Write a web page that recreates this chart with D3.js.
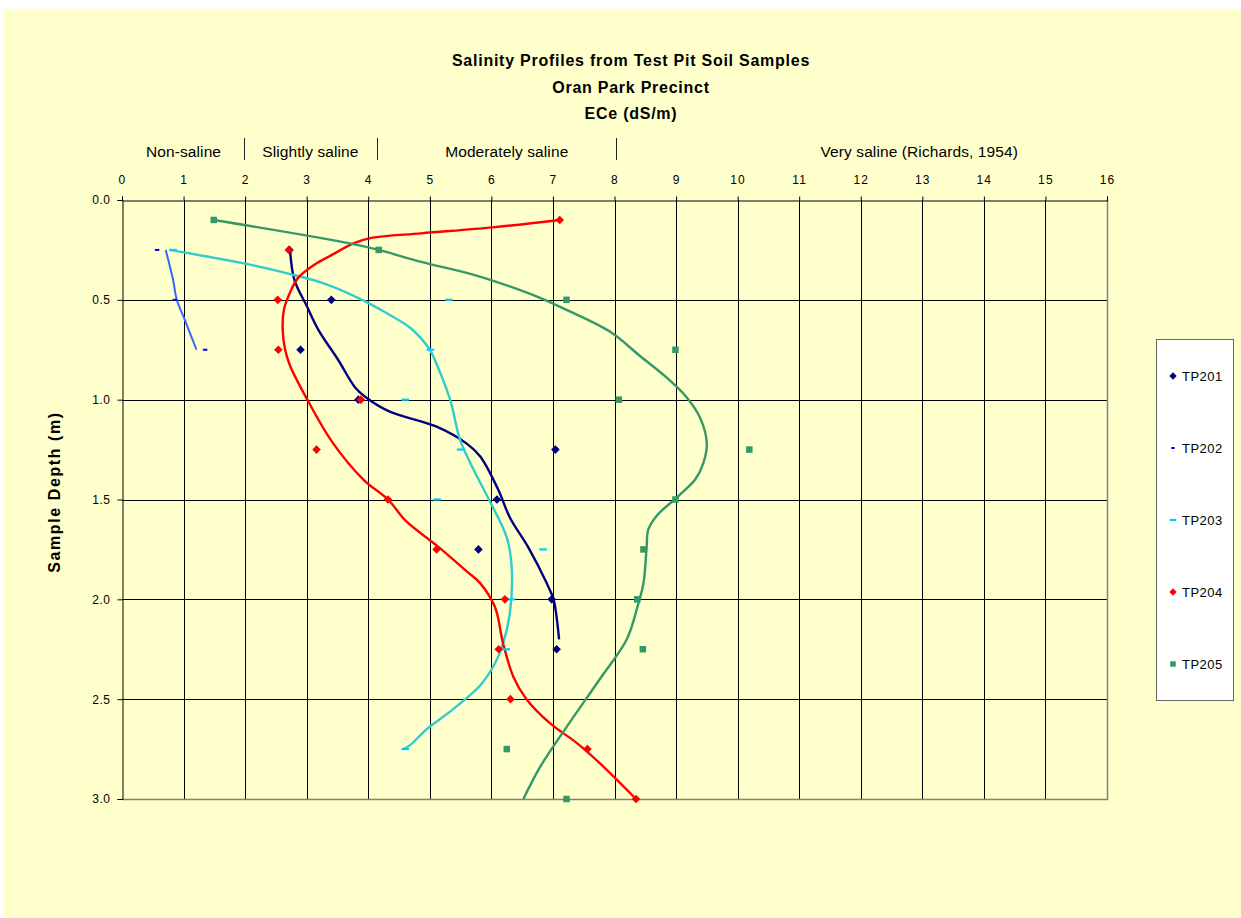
<!DOCTYPE html>
<html>
<head>
<meta charset="utf-8">
<script src="https://cdn.jsdelivr.net/npm/d3@7"></script>
<style>
  body { margin: 0; background: #ffffff; }
  svg { display: block; }
  text { font-family: Arial, "Liberation Sans", sans-serif; fill: #000; }
</style>
</head>
<body>
<div id="chart"></div>
<script>
// ---------- DATA ----------
const titleLines = ["Salinity Profiles from Test Pit Soil Samples", "Oran Park Precinct", "ECe (dS/m)"];
const yTitle = "Sample Depth (m)";
const xTicks = [0,1,2,3,4,5,6,7,8,9,10,11,12,13,14,15,16];
const yTicks = [0.0,0.5,1.0,1.5,2.0,2.5,3.0];
const salinityClasses = ["Non-saline", "Slightly saline", "Moderately saline", "Very saline (Richards, 1954)"];
const seriesNames = ["TP201", "TP202", "TP203", "TP204", "TP205"];

// measured points [ECe, depth]
const tp201Points = [[2.72,0.25],[3.40,0.5],[2.90,0.75],[3.84,1.0],[7.04,1.25],[6.09,1.5],[5.79,1.75],[6.98,2.0],[7.06,2.25]];
const tp202Points = [[0.57,0.25],[0.86,0.5],[1.35,0.75]];
const tp203Points = [[0.83,0.25],[5.31,0.5],[5.01,0.75],[4.60,1.0],[5.50,1.25],[5.12,1.5],[6.84,1.75],[6.33,2.0],[6.24,2.25],[4.60,2.75]];
const tp204Points = [[7.11,0.10],[2.71,0.25],[2.53,0.5],[2.54,0.75],[3.88,1.0],[3.16,1.25],[4.32,1.5],[5.11,1.75],[6.22,2.0],[6.12,2.25],[6.31,2.5],[7.56,2.75],[8.35,3.0]];
const tp205Points = [[1.49,0.10],[4.17,0.25],[7.22,0.5],[8.99,0.75],[8.07,1.0],[10.19,1.25],[8.99,1.5],[8.47,1.75],[8.37,2.0],[8.46,2.25],[6.25,2.75],[7.22,3.0]];

// fitted profile curves [ECe, depth]
const tp201Curve = [[2.73,0.25],[2.80,0.40],[3.00,0.53],[3.19,0.65],[3.51,0.80],[3.79,0.94],[3.97,0.99],[4.35,1.06],[5.11,1.135],[5.60,1.22],[5.82,1.285],[6.11,1.45],[6.30,1.59],[6.60,1.74],[6.90,1.92],[7.01,2.0],[7.06,2.09],[7.10,2.20]];
const tp202Curve = [[0.71,0.25],[0.83,0.40],[0.89,0.5],[1.02,0.60],[1.21,0.75]];
const tp203Curve = [[0.77,0.25],[2.02,0.32],[2.72,0.37],[3.30,0.42],[3.90,0.5],[4.26,0.56],[4.70,0.645],[5.00,0.75],[5.08,0.80],[5.33,1.0],[5.49,1.2],[5.71,1.35],[5.96,1.5],[6.25,1.69],[6.33,1.84],[6.30,2.07],[6.19,2.22],[6.06,2.32],[5.82,2.43],[5.38,2.55],[4.95,2.65],[4.68,2.73],[4.57,2.75]];
const tp204Curve = [[7.11,0.10],[6.02,0.137],[4.86,0.167],[4.05,0.19],[3.76,0.217],[3.41,0.275],[3.12,0.325],[2.86,0.39],[2.72,0.47],[2.63,0.55],[2.61,0.65],[2.65,0.75],[2.73,0.83],[3.01,1.0],[3.41,1.21],[3.92,1.40],[4.32,1.5],[4.62,1.61],[5.11,1.73],[5.60,1.86],[5.82,1.92],[6.06,2.04],[6.19,2.22],[6.36,2.39],[6.57,2.50],[6.95,2.62],[7.39,2.72],[7.76,2.82],[8.35,3.0]];
const tp205Curve = [[1.49,0.10],[3.70,0.217],[4.17,0.25],[4.86,0.31],[5.73,0.376],[6.31,0.434],[6.79,0.49],[7.22,0.55],[7.93,0.66],[8.41,0.78],[8.85,0.89],[9.15,0.98],[9.39,1.09],[9.50,1.22],[9.44,1.32],[9.31,1.40],[9.01,1.49],[8.69,1.58],[8.55,1.65],[8.52,1.75],[8.47,1.92],[8.37,2.04],[8.20,2.20],[7.76,2.40],[7.22,2.64],[6.79,2.84],[6.52,3.0]];

// ---------- LAYOUT ----------
const W = 1241, H = 918;
const plot = {left: 122, right: 1107, top: 200, bottom: 799};
const classSeparators = [1.98, 4.14, 8.02];      // positions of "|" marks, ECe units
const classLabelCenters = [1.0, 3.06, 6.25, 12.95];

const series = [
  {name: seriesNames[0], pts: tp201Points, curve: tp201Curve, line: "#000080", mark: "#000080", shape: "diamond"},
  {name: seriesNames[1], pts: tp202Points, curve: tp202Curve, line: "#3366FF", mark: "#0000FF", shape: "dashS"},
  {name: seriesNames[2], pts: tp203Points, curve: tp203Curve, line: "#33CCCC", mark: "#00CCFF", shape: "dashL"},
  {name: seriesNames[3], pts: tp204Points, curve: tp204Curve, line: "#FF0000", mark: "#FF0000", shape: "diamond"},
  {name: seriesNames[4], pts: tp205Points, curve: tp205Curve, line: "#339966", mark: "#339966", shape: "square"}
];

const svg = d3.select("#chart").append("svg").attr("width", W).attr("height", H);

svg.append("rect").attr("x", 4).attr("y", 9).attr("width", W - 4).attr("height", H - 9).attr("fill", "#FFFFCC");

const x = d3.scaleLinear().domain([0, 16]).range([plot.left, plot.right]);
const y = d3.scaleLinear().domain([0, 3]).range([plot.top, plot.bottom]);

// title
svg.append("g").selectAll("text").data(titleLines).join("text")
  .attr("x", 631).attr("y", (d, i) => 66 + i * 26.5)
  .attr("text-anchor", "middle")
  .style("font-size", "16px").style("font-weight", "bold").style("letter-spacing", "0.75px")
  .text(d => d);

// salinity class labels
svg.append("g").selectAll("text").data(salinityClasses).join("text")
  .attr("x", (d, i) => x(classLabelCenters[i])).attr("y", 157)
  .attr("text-anchor", "middle")
  .style("font-size", "15.5px").style("letter-spacing", "0.1px")
  .text(d => d);
svg.append("g").selectAll("line").data(classSeparators).join("line")
  .attr("x1", d => Math.round(x(d)) + 0.5).attr("x2", d => Math.round(x(d)) + 0.5)
  .attr("y1", 138).attr("y2", 160)
  .attr("stroke", "#222").attr("stroke-width", 1);

// grid
const grid = svg.append("g");
grid.selectAll("line.v").data(xTicks.filter(d => d > 0 && d < 16)).join("line")
  .attr("class", "v")
  .attr("x1", d => Math.round(x(d)) + 0.5).attr("x2", d => Math.round(x(d)) + 0.5)
  .attr("y1", plot.top).attr("y2", plot.bottom)
  .attr("stroke", "#000").attr("stroke-width", 1);
grid.selectAll("line.h").data(yTicks.filter(d => d > 0 && d < 3)).join("line")
  .attr("class", "h")
  .attr("x1", plot.left).attr("x2", plot.right)
  .attr("y1", d => Math.round(y(d)) + 0.5).attr("y2", d => Math.round(y(d)) + 0.5)
  .attr("stroke", "#000").attr("stroke-width", 1);

// plot border (right & bottom grey)
svg.append("path")
  .attr("d", `M${plot.left},${plot.bottom + 0.5}H${plot.right + 0.5}V${plot.top}`)
  .attr("fill", "none").attr("stroke", "#808080").attr("stroke-width", 1.5);

// axes
const xAxis = d3.axisTop(x).tickValues(xTicks).tickFormat(d3.format("d")).tickSize(4).tickPadding(13);
const gx = svg.append("g").attr("transform", `translate(0,${plot.top + 0.5})`).call(xAxis);
gx.select(".domain").attr("stroke", "#000");
gx.selectAll(".tick line").attr("stroke", "#000");
gx.selectAll("text").style("font-size", "12px").style("letter-spacing", "1.2px")
  .attr("font-family", null).attr("fill", "#000");

const yAxis = d3.axisLeft(y).tickValues(yTicks).tickFormat(d3.format(".1f")).tickSize(5).tickPadding(7);
const gy = svg.append("g").attr("transform", `translate(${plot.left + 0.5},0)`).call(yAxis);
gy.select(".domain").attr("stroke", "#000");
gy.selectAll(".tick line").attr("stroke", "#000");
gy.selectAll("text").style("font-size", "12px").style("letter-spacing", "0.5px")
  .attr("font-family", null).attr("fill", "#000");

// y title
svg.append("text")
  .attr("transform", `translate(60,492) rotate(-90)`)
  .attr("text-anchor", "middle")
  .style("font-size", "16px").style("font-weight", "bold").style("letter-spacing", "1.6px")
  .text(yTitle);

// curves
const lineGen = d3.line().x(d => x(d[0])).y(d => y(d[1])).curve(d3.curveCatmullRom.alpha(0.5));
svg.append("g").selectAll("path").data(series).join("path")
  .attr("d", s => lineGen(s.curve))
  .attr("fill", "none")
  .attr("stroke", s => s.line)
  .attr("stroke-width", s => s.name === "TP202" ? 2 : 2.4)
  .attr("stroke-linejoin", "round");

// markers
function drawMarker(g, shape, color, scale) {
  const k = scale || 1;
  if (shape === "diamond") {
    const r = 4.3 * k;
    g.append("path").attr("d", `M0,${-r}L${r},0L0,${r}L${-r},0Z`).attr("fill", color);
  } else if (shape === "square") {
    const s = 6.5 * k;
    g.append("rect").attr("x", -s/2).attr("y", -s/2).attr("width", s).attr("height", s).attr("fill", color);
  } else if (shape === "dashS") {
    const w = 4.5 * k;
    g.append("rect").attr("x", -w/2).attr("y", -1).attr("width", w).attr("height", 2).attr("fill", color);
  } else if (shape === "dashL") {
    const w = 7.5 * k;
    g.append("rect").attr("x", -w/2).attr("y", -1.1).attr("width", w).attr("height", 2.2).attr("fill", color);
  }
}
series.forEach(s => {
  const g = svg.append("g");
  s.pts.forEach(p => {
    const m = g.append("g").attr("transform", `translate(${x(p[0])},${y(p[1])})`);
    drawMarker(m, s.shape, s.mark, 1);
  });
});

// legend
const legend = svg.append("g");
legend.append("rect").attr("x", 1156.5).attr("y", 339.5).attr("width", 77).attr("height", 361)
  .attr("fill", "#ffffff").attr("stroke", "#666").attr("stroke-width", 1);
series.forEach((s, i) => {
  const cy = 376 + i * 72;
  const m = legend.append("g").attr("transform", `translate(1173,${cy})`);
  drawMarker(m, s.shape, s.mark, s.shape === "dashS" ? 0.75 : 0.85);
  legend.append("text").attr("x", 1182).attr("y", cy + 5)
    .style("font-size", "13px").style("letter-spacing", "0.5px")
    .text(s.name);
});
</script>
</body>
</html>
